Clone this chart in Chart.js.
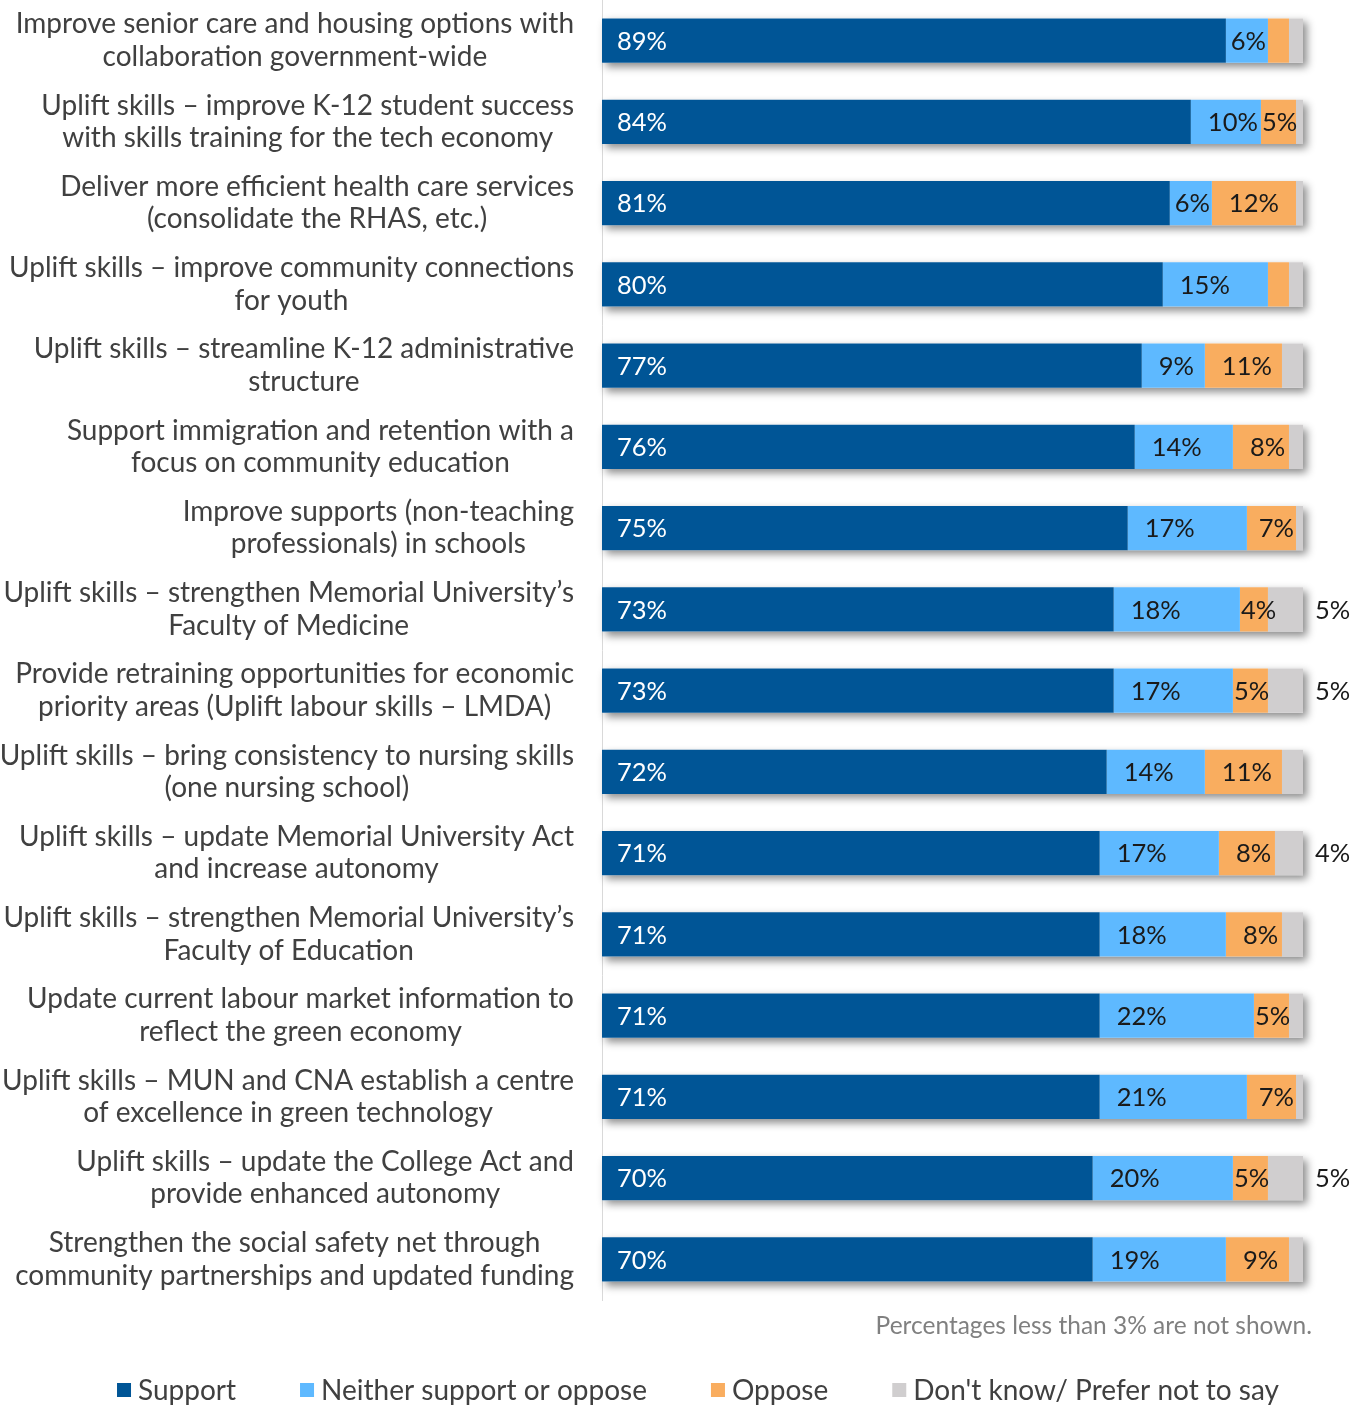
<!DOCTYPE html>
<html><head><meta charset="utf-8">
<script src="https://cdn.jsdelivr.net/npm/chart.js@4.4.1/dist/chart.umd.min.js"></script>
<style>html,body{margin:0;padding:0;background:#fff}#wrap{width:1367px;height:1406px;position:relative}</style>
</head><body><div id="wrap"><canvas id="c"></canvas></div>
<script>
const categories = [
 ["Improve senior care and housing options with","collaboration government-wide"],
 ["Uplift skills – improve K-12 student success","with skills training for the tech economy"],
 ["Deliver more efficient health care services","(consolidate the RHAS, etc.)"],
 ["Uplift skills – improve community connections","for youth"],
 ["Uplift skills – streamline K-12 administrative","structure"],
 ["Support immigration and retention with a","focus on community education"],
 ["Improve supports (non-teaching","professionals) in schools"],
 ["Uplift skills – strengthen Memorial University’s","Faculty of Medicine"],
 ["Provide retraining opportunities for economic","priority areas (Uplift labour skills – LMDA)"],
 ["Uplift skills – bring consistency to nursing skills","(one nursing school)"],
 ["Uplift skills – update Memorial University Act","and increase autonomy"],
 ["Uplift skills – strengthen Memorial University’s","Faculty of Education"],
 ["Update current labour market information to","reflect the green economy"],
 ["Uplift skills – MUN and CNA establish a centre","of excellence in green technology"],
 ["Uplift skills – update the College Act and","provide enhanced autonomy"],
 ["Strengthen the social safety net through","community partnerships and updated funding"]
];
const seriesNames = ["Support","Neither support or oppose","Oppose","Don't know/ Prefer not to say"];
const support  = [89,84,81,80,77,76,75,73,73,72,71,71,71,71,70,70];
const neither  = [6,10,6,15,9,14,17,18,17,14,17,18,22,21,20,19];
const oppose   = [3,5,12,3,11,8,7,4,5,11,8,8,5,7,5,9];
const dontKnow = [2,1,1,2,3,2,1,5,5,3,4,3,2,1,5,2];
const noteText = "Percentages less than 3% are not shown.";

const colors = ["#005596","#5EB9FF","#F9AD5F","#D0CECF"];
const FONT = "Lato";

const shadowPlugin = {
  id: 'barShadow',
  beforeDatasetsDraw(chart) {
    const ctx = chart.ctx;
    const n = chart.data.datasets.length;
    const first = chart.getDatasetMeta(0), last = chart.getDatasetMeta(n - 1);
    ctx.save();
    ctx.shadowColor = 'rgba(0,0,0,0.45)';
    ctx.shadowBlur = 8;
    ctx.shadowOffsetX = 4;
    ctx.shadowOffsetY = 4;
    ctx.fillStyle = '#ffffff';
    first.data.forEach((el, i) => {
      const a = el.getProps(['y','base','height'], true);
      const b = last.data[i].getProps(['x'], true);
      ctx.fillRect(a.base, a.y - a.height / 2, b.x - a.base, a.height);
    });
    ctx.restore();
  }
};

const labelPlugin = {
  id: 'valueLabels',
  afterDatasetsDraw(chart) {
    const ctx = chart.ctx;
    ctx.save();
    ctx.font = "25.5px " + FONT;
    ctx.textBaseline = 'middle';
    ctx.textAlign = 'left';
    chart.data.datasets.forEach((ds, di) => {
      const meta = chart.getDatasetMeta(di);
      meta.data.forEach((el, i) => {
        const v = ds.data[i];
        if (v < 4) return;
        const p = el.getProps(['x','y','base'], true);
        const start = Math.min(p.base, p.x), end = Math.max(p.base, p.x);
        const t = v + '%';
        const w = ctx.measureText(t).width;
        let x;
        if (di === 0) { x = start + 15; ctx.fillStyle = '#ffffff'; }
        else if (di === chart.data.datasets.length - 1) { x = end + 12; ctx.fillStyle = '#1a1a1a'; }
        else { x = Math.min(start + 17, Math.max(start + 1, end - w - 2)); ctx.fillStyle = '#1a1a1a'; }
        ctx.fillText(t, x, p.y + 1);
      });
    });
    ctx.restore();
  }
};

const textPlugin = {
  id: 'sideText',
  afterDraw(chart) {
    const ctx = chart.ctx;
    const ys = chart.scales.y;
    const area = chart.chartArea;
    ctx.save();
    // category labels
    ctx.font = "28px " + FONT;
    ctx.fillStyle = '#404040';
    ctx.textBaseline = 'middle';
    ctx.textAlign = 'center';
    const right = area.left - 28;
    const lh = 32.5;
    chart.data.labels.forEach((lines, i) => {
      const yc = ys.getPixelForValue(i);
      const w = Math.max(...lines.map(l => ctx.measureText(l).width));
      const cx = right - w / 2;
      lines.forEach((l, k) => {
        ctx.fillText(l, cx, yc + (k - (lines.length - 1) / 2) * lh);
      });
    });
    // note
    ctx.font = "24.5px " + FONT;
    ctx.fillStyle = '#808080';
    ctx.textAlign = 'right';
    ctx.fillText(noteText, area.right + 9, area.bottom + 26);
    // legend
    ctx.font = "28px " + FONT;
    ctx.textAlign = 'left';
    const ds = chart.data.datasets;
    const box = 14, gapT = 7, gapI = 64;
    const widths = ds.map(d => box + gapT + ctx.measureText(d.label).width);
    const total = widths.reduce((a, b) => a + b, 0) + gapI * (ds.length - 1);
    let x = 698 - total / 2;
    const ly = area.bottom + 90;
    ds.forEach((d, i) => {
      ctx.fillStyle = d.backgroundColor;
      ctx.fillRect(x, ly - box / 2, box, box);
      ctx.fillStyle = '#404040';
      ctx.fillText(d.label, x + box + gapT, ly + 1);
      x += widths[i] + gapI;
    });
    ctx.restore();
  }
};

const seriesData = [support, neither, oppose, dontKnow];

new Chart(document.getElementById('c'), {
  type: 'bar',
  data: {
    labels: categories,
    datasets: seriesNames.map((name, k) => ({
      label: name,
      data: seriesData[k],
      backgroundColor: colors[k],
      borderWidth: 0,
      categoryPercentage: 1,
      barPercentage: 0.545
    }))
  },
  options: {
    indexAxis: 'y',
    responsive: true,
    maintainAspectRatio: false,
    animation: false,
    layout: { padding: { left: 0, right: 64, top: 0, bottom: 106 } },
    plugins: { legend: { display: false }, tooltip: { enabled: false } },
    font: { family: FONT },
    scales: {
      x: { stacked: true, min: 0, max: 100, display: false },
      y: {
        stacked: true,
        ticks: { display: false },
        grid: { display: false, drawTicks: false },
        border: { display: true, color: '#d9d9d9', width: 1 },
        afterFit(scale) { scale.width = 602; }
      }
    }
  },
  plugins: [shadowPlugin, labelPlugin, textPlugin]
});
</script>
</body></html>
